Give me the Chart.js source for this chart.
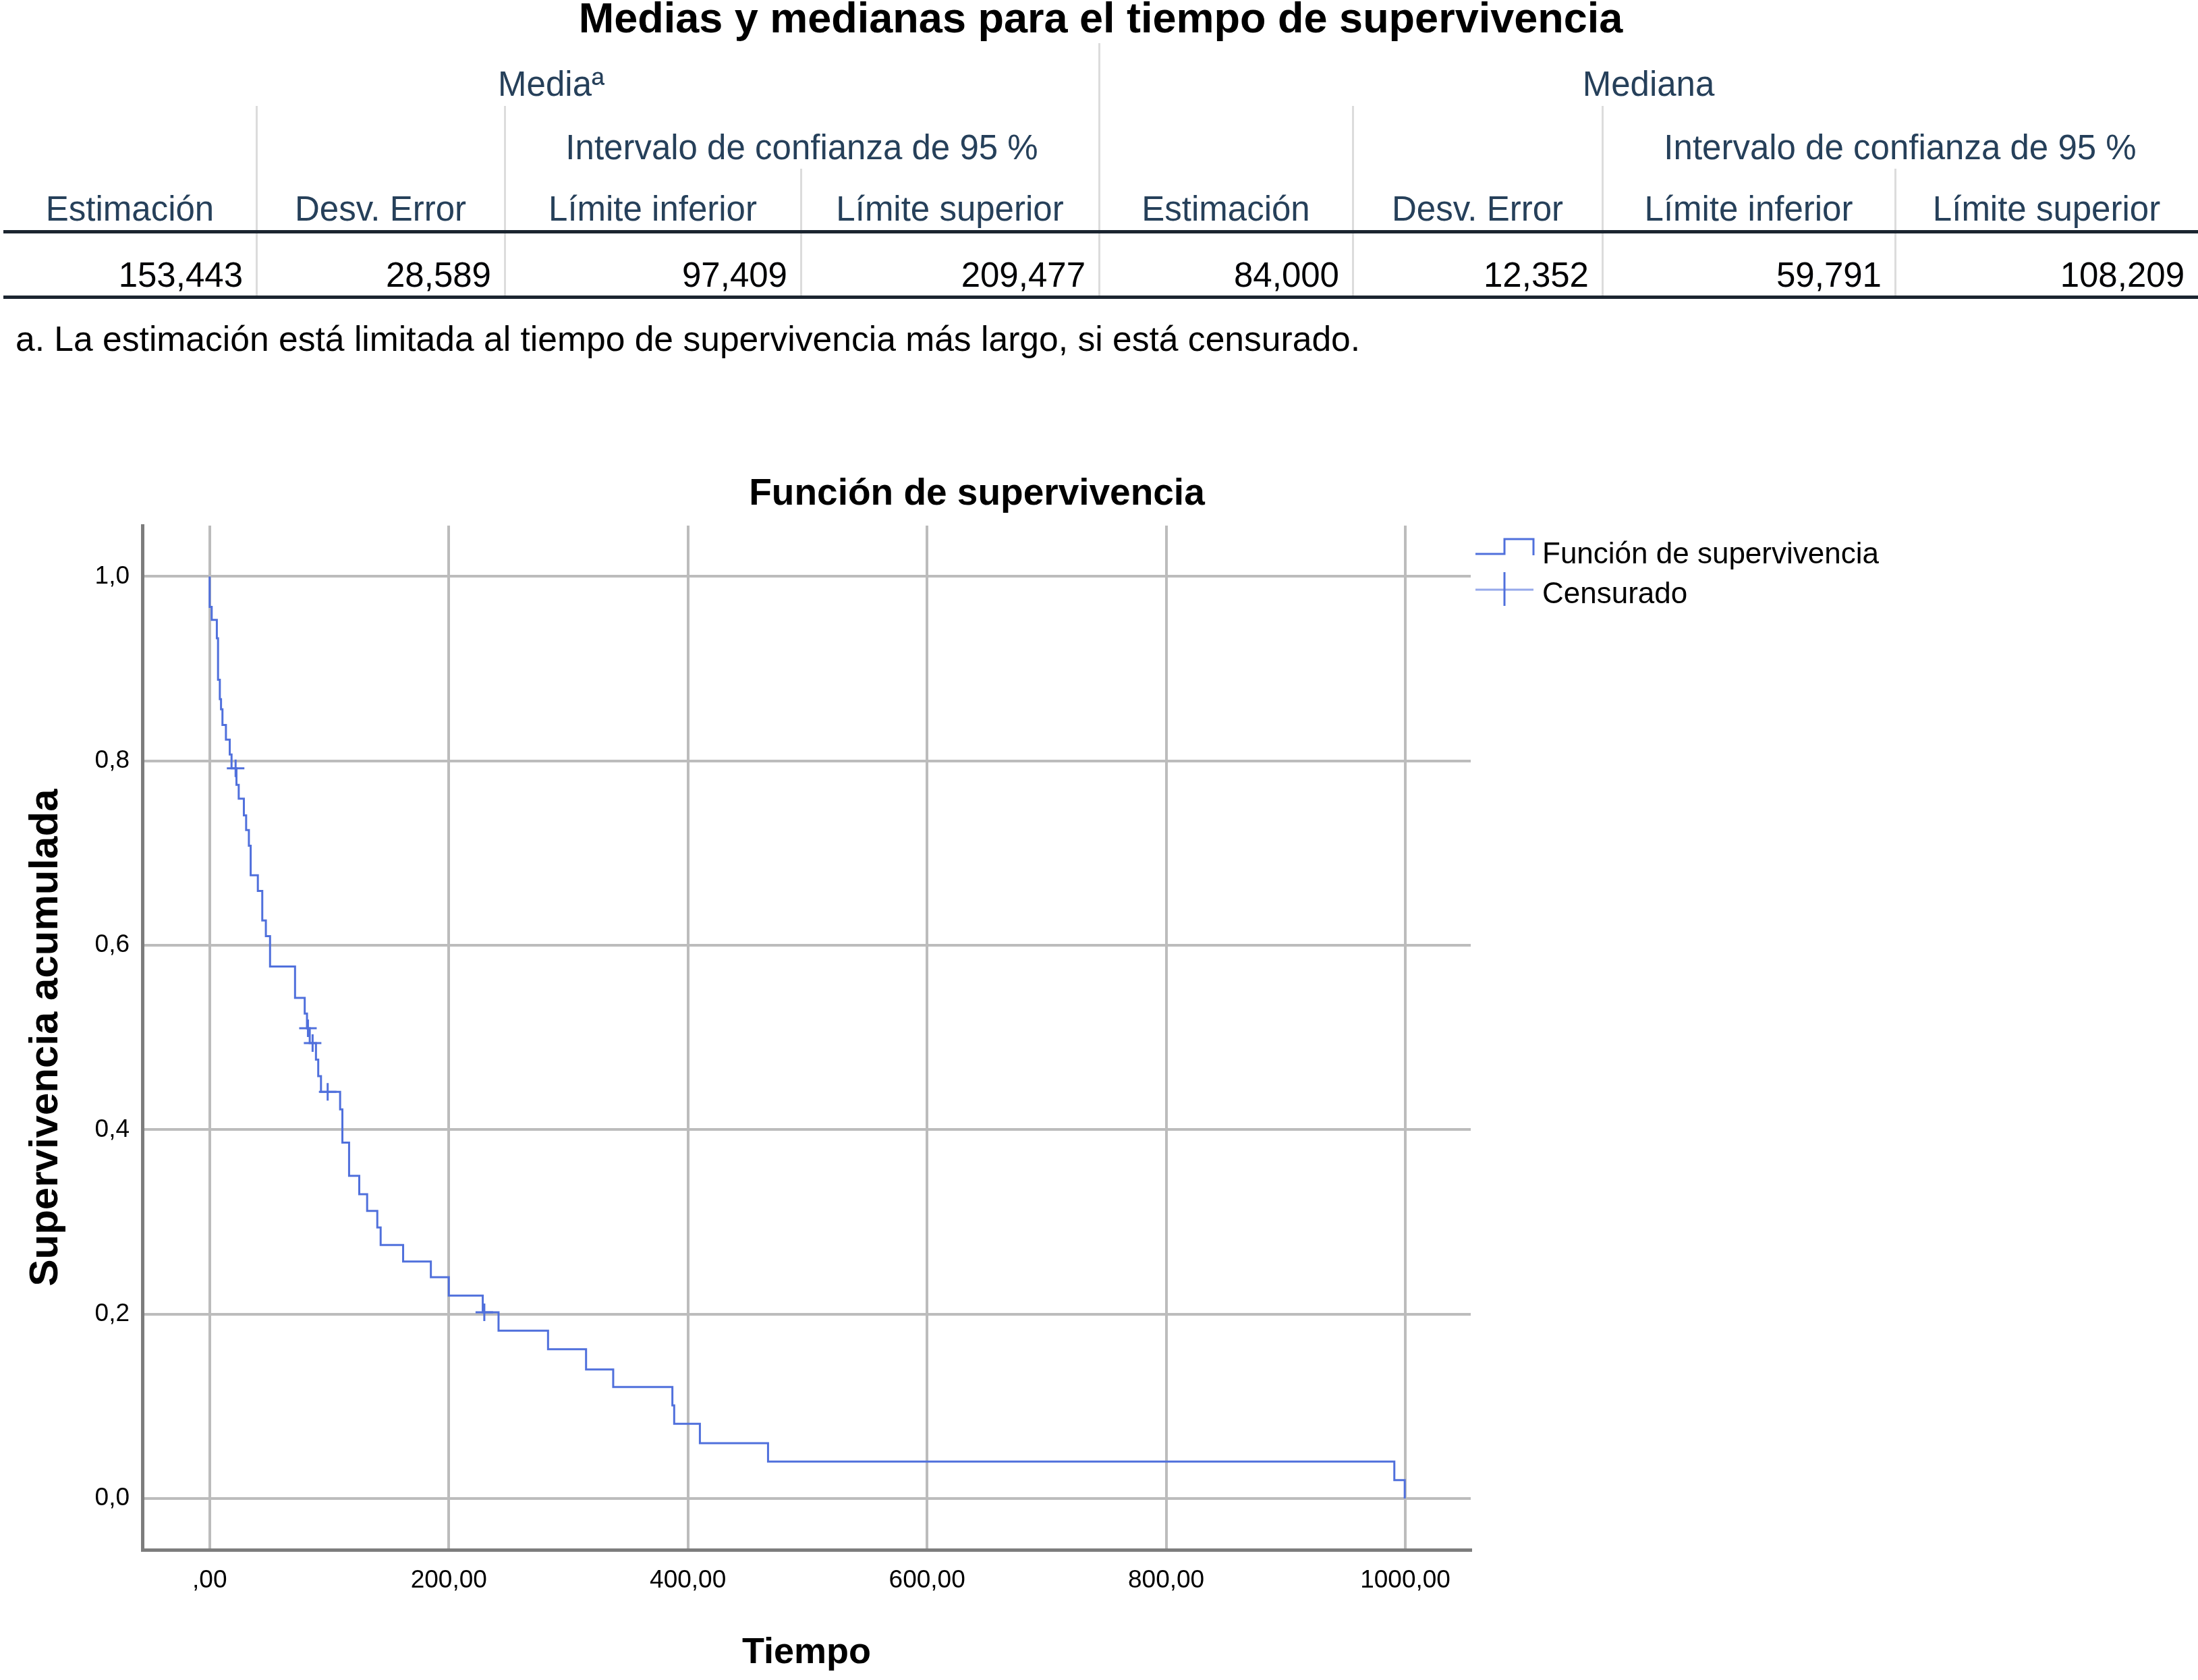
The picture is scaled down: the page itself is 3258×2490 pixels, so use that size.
<!DOCTYPE html>
<html lang="es">
<head>
<meta charset="utf-8">
<title>Medias y medianas / Función de supervivencia</title>
<script src="https://cdn.jsdelivr.net/npm/chart.js@4.4.1/dist/chart.umd.min.js"></script>
<style>
    html, body { margin: 0; padding: 0; background: #fff; }
    body {
        width: 3258px; height: 2490px; position: relative; overflow: hidden;
        font-family: "Liberation Sans", Arial, sans-serif;
    }
    .txt { position: absolute; white-space: nowrap; line-height: 1; }
    .sep { position: absolute; width: 3px; background: #dcdcdc; }
    .rule { position: absolute; left: 5px; width: 3253px; height: 5px; background: #1b2530; }
    #chartBox { position: absolute; left: 0; top: 600px; width: 2896px; height: 1890px; }
</style>
</head>
<body>
<div id="table"></div>
<div id="chartBox"><canvas id="kmChart"></canvas></div>

<script>
// TABLE DATA
const tableTitle = "Medias y medianas para el tiempo de supervivencia";
const groupLabels = ["Media\u00aa", "Mediana"];
const ciLabel = "Intervalo de confianza de 95 %";
const headerLabels = ["Estimación", "Desv. Error", "Límite inferior", "Límite superior",
                      "Estimación", "Desv. Error", "Límite inferior", "Límite superior"];
const statValues = ["153,443", "28,589", "97,409", "209,477", "84,000", "12,352", "59,791", "108,209"];
const footnote = "a. La estimación está limitada al tiempo de supervivencia más largo, si está censurado.";

// CHART DATA (tiempo, supervivencia acumulada tras cada evento)
const survTimes = [0, 0, 1.7, 6, 7, 8.5, 9.5, 10.7, 13.6, 16.8, 18.3, 22.4, 24.3, 28.6, 30.5, 32.8,
                   34.3, 40.3, 44, 47, 50.5, 71.4, 79.5, 81.4, 83.7, 88.9, 90.8, 93.1, 109.1, 111,
                   116.6, 125.1, 131.7, 140.2, 143, 161.8, 185, 200, 228.4, 241.6, 283, 314.8, 337.5,
                   387, 388.5, 410, 467, 990.8, 999.5];
const survValues = [1.0, 0.967, 0.953, 0.933, 0.888, 0.867, 0.856, 0.839, 0.823, 0.807, 0.792, 0.774,
                    0.759, 0.741, 0.725, 0.708, 0.676, 0.659, 0.627, 0.610, 0.577, 0.543, 0.526, 0.510,
                    0.494, 0.476, 0.458, 0.441, 0.422, 0.386, 0.350, 0.330, 0.312, 0.294, 0.275, 0.257,
                    0.240, 0.220, 0.202, 0.182, 0.162, 0.140, 0.121, 0.101, 0.081, 0.060, 0.040, 0.020, 0.0];
const censorTimes = [21.7, 82.2, 86.1, 98.7, 229.7];
const censorValues = [0.792, 0.510, 0.494, 0.441, 0.202];
const xTickValues = [0, 200, 400, 600, 800, 1000];
const yTickValues = [0, 0.2, 0.4, 0.6, 0.8, 1.0];
const seriesLabels = ["Función de supervivencia", "Censurado"];

// TABLE
const colEdges = [5, 380, 748, 1187, 1629, 2005, 2375, 2809, 3258];
const tableEl = document.getElementById("table");
const headColor = "#26405a";

function addText(str, x, baseline, size, align, opts = {}) {
    const d = document.createElement("div");
    d.className = "txt";
    d.textContent = str;
    d.style.fontSize = size + "px";
    d.style.top = (baseline - 0.8465 * size) + "px";
    d.style.left = x + "px";
    d.style.color = opts.color || "#000";
    if (opts.bold) d.style.fontWeight = "bold";
    if (align === "center") d.style.transform = "translateX(-50%)";
    if (align === "right") d.style.transform = "translateX(-100%)";
    tableEl.appendChild(d);
}

function addSep(x, top, bottom) {
    const d = document.createElement("div");
    d.className = "sep";
    d.style.left = (x - 1) + "px";
    d.style.top = top + "px";
    d.style.height = (bottom - top) + "px";
    tableEl.appendChild(d);
}

function addRule(y) {
    const d = document.createElement("div");
    d.className = "rule";
    d.style.top = y + "px";
    tableEl.appendChild(d);
}

const mid = (a, b) => (colEdges[a] + colEdges[b]) / 2;

addText(tableTitle, mid(0, 8), 48, 63, "center", { bold: true });
addText(groupLabels[0], mid(0, 4), 142, 51, "center", { color: headColor });
addText(groupLabels[1], mid(4, 8), 142, 51, "center", { color: headColor });
addText(ciLabel, mid(2, 4), 236, 51, "center", { color: headColor });
addText(ciLabel, mid(6, 8), 236, 51, "center", { color: headColor });
headerLabels.forEach((h, i) => addText(h, mid(i, i + 1), 327, 51, "center", { color: headColor }));
statValues.forEach((v, i) => addText(v, colEdges[i + 1] - 20, 425, 51, "right", { color: "#010205" }));
addText(footnote, 23, 521, 51.6, "left");

[[1, 157], [2, 157], [3, 250], [4, 64], [5, 157], [6, 157], [7, 250]]
    .forEach(([c, top]) => addSep(colEdges[c], top, 439));
addRule(341);
addRule(438);

// CHART
const lineColor = "#5070dc";
const gridColor = "#bcbcbc";
const axisColor = "#7d7d7d";
const sans = '"Liberation Sans", Arial, sans-serif';

const fmtY = v => v.toFixed(1).replace(".", ",");
const fmtX = v => v === 0 ? ",00" : v.toFixed(2).replace(".", ",");

// leyenda dibujada a mano: el icono escalonado no existe en Chart.js
const kmLegend = {
    id: "kmLegend",
    afterDraw(chart) {
        const { ctx, chartArea } = chart;
        const x0 = chartArea.right + 7;
        const top = chartArea.top;
        ctx.save();
        ctx.strokeStyle = lineColor;
        ctx.lineWidth = 3;
        ctx.beginPath();
        ctx.moveTo(x0, top + 42);
        ctx.lineTo(x0 + 43, top + 42);
        ctx.lineTo(x0 + 43, top + 20);
        ctx.lineTo(x0 + 86, top + 20);
        ctx.lineTo(x0 + 86, top + 44);
        ctx.stroke();

        ctx.globalAlpha = 0.6;
        ctx.beginPath();
        ctx.moveTo(x0, top + 95);
        ctx.lineTo(x0 + 86, top + 95);
        ctx.stroke();
        ctx.globalAlpha = 1;
        ctx.beginPath();
        ctx.moveTo(x0 + 43, top + 69);
        ctx.lineTo(x0 + 43, top + 119);
        ctx.stroke();

        ctx.fillStyle = "#000";
        ctx.font = "44px " + sans;
        ctx.textBaseline = "alphabetic";
        ctx.textAlign = "left";
        ctx.fillText(seriesLabels[0], x0 + 99, top + 56);
        ctx.fillText(seriesLabels[1], x0 + 99, top + 115);
        ctx.restore();
    }
};

const tickFont = { family: sans, size: 37 };

new Chart(document.getElementById("kmChart"), {
    type: "line",
    data: {
        datasets: [{
            label: seriesLabels[0],
            data: survTimes.map((t, i) => ({ x: t, y: survValues[i] })),
            stepped: "before",
            borderColor: lineColor,
            borderWidth: 3,
            pointRadius: 0,
            fill: false
        }, {
            label: seriesLabels[1],
            type: "scatter",
            data: censorTimes.map((t, i) => ({ x: t, y: censorValues[i] })),
            pointStyle: "cross",
            pointRadius: 13,
            borderColor: lineColor,
            backgroundColor: lineColor,
            borderWidth: 3,
            showLine: false
        }]
    },
    options: {
        responsive: true,
        maintainAspectRatio: false,
        animation: false,
        devicePixelRatio: 1,
        layout: { padding: 0 },
        plugins: {
            legend: { display: false },
            tooltip: { enabled: false },
            title: {
                display: true,
                text: "Función de supervivencia",
                color: "#000",
                font: { family: sans, size: 55, weight: "bold" },
                padding: { top: 100, bottom: 13 }
            }
        },
        scales: {
            x: {
                type: "linear",
                min: -56.3,
                max: 1054.7,
                afterBuildTicks: s => { s.ticks = xTickValues.map(v => ({ value: v })); },
                afterFit: s => { s.height = 193; },
                grid: { color: gridColor, lineWidth: 4, drawTicks: false },
                border: { color: axisColor, width: 5 },
                ticks: { padding: 24, font: tickFont, color: "#000", maxRotation: 0, autoSkip: false,
                         callback: v => fmtX(v) },
                title: { display: true, text: "Tiempo", color: "#000",
                         font: { family: sans, size: 54, weight: "bold" }, padding: { top: 0, bottom: 7 } }
            },
            y: {
                type: "linear",
                min: -0.0556,
                max: 1.0552,
                afterBuildTicks: s => { s.ticks = yTickValues.map(v => ({ value: v })); },
                afterFit: s => { s.width = 211; },
                grid: { color: gridColor, lineWidth: 4, drawTicks: false },
                border: { color: axisColor, width: 5 },
                ticks: { padding: 19, font: tickFont, color: "#000", callback: v => fmtY(v) },
                title: { display: true, text: "Supervivencia acumulada", color: "#000",
                         font: { family: sans, size: 60, weight: "bold" }, padding: { top: 32, bottom: 0 } }
            },
            // hueco a la derecha para la leyenda
            y2: {
                position: "right",
                display: true,
                grid: { display: false },
                border: { display: false },
                ticks: { display: false },
                afterFit: s => { s.width = 716; }
            }
        }
    },
    plugins: [kmLegend]
});
</script>
</body>
</html>
